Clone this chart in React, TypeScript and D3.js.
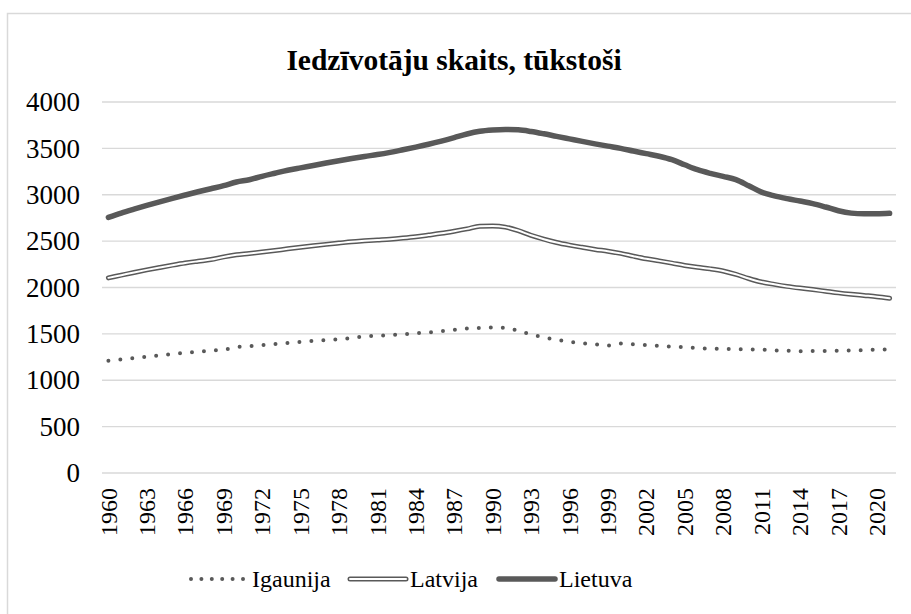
import React, { useEffect, useRef } from 'react';
import * as d3 from 'd3';

// gadi 1960..2021
const years: number[] = d3.range(1960, 2022);

// iedzīvotāju skaits, tūkstoši
const igaunija: number[] = [
  1211, 1225, 1240, 1254, 1268, 1282, 1295, 1307, 1319, 1330,
  1357, 1366, 1379, 1391, 1403, 1414, 1424, 1433, 1443, 1454,
  1473, 1479, 1487, 1496, 1506, 1516, 1528, 1543, 1557, 1565,
  1569, 1566, 1533, 1495, 1462, 1436, 1415, 1400, 1387, 1375,
  1397, 1388, 1379, 1370, 1362, 1355, 1347, 1341, 1338, 1336,
  1333, 1330, 1323, 1318, 1314, 1315, 1316, 1317, 1321, 1325,
  1329, 1331,
];
const latvija: number[] = [
  2104, 2133, 2162, 2190, 2216, 2241, 2264, 2283, 2301, 2330,
  2352, 2366, 2382, 2399, 2417, 2434, 2450, 2465, 2479, 2493,
  2503, 2512, 2521, 2533, 2547, 2565, 2584, 2607, 2632, 2660,
  2663, 2651, 2614, 2563, 2521, 2485, 2457, 2433, 2410, 2391,
  2368, 2338, 2310, 2287, 2263, 2238, 2218, 2201, 2178, 2142,
  2097, 2059, 2034, 2012, 1994, 1978, 1960, 1942, 1927, 1914,
  1901, 1884,
];
const lietuva: number[] = [
  2756, 2803, 2845, 2885, 2924, 2961, 2997, 3032, 3065, 3098,
  3138, 3162, 3199, 3232, 3264, 3290, 3315, 3342, 3367, 3391,
  3413, 3433, 3457, 3485, 3514, 3545, 3579, 3616, 3655, 3684,
  3698, 3704, 3700, 3682, 3657, 3629, 3602, 3575, 3549, 3524,
  3500, 3471, 3443, 3415, 3378, 3323, 3270, 3231, 3198, 3163,
  3097, 3028, 2988, 2958, 2932, 2905, 2868, 2828, 2802, 2794,
  2795, 2800,
];

const seriesNames: string[] = ['Igaunija', 'Latvija', 'Lietuva'];
const yTicks: number[] = [0, 500, 1000, 1500, 2000, 2500, 3000, 3500, 4000];
const xLabelYears: number[] = d3.range(1960, 2022, 3);

const font = 'Liberation Serif, Tinos, DejaVu Serif, Noto Serif, Times New Roman, serif';

const App = () => {
  const ref = useRef<SVGSVGElement>(null);

  useEffect(() => {
    document.body.style.margin = '0';
    const svg = d3.select(ref.current);
    svg.selectAll('*').remove();

    const width = 911;
    const height = 614;
    const left = 102;
    const right = 896;
    const top = 102;
    const bottom = 473;
    const grey = '#595959';

    // rāmis
    svg.append('rect')
      .attr('x', 7.5).attr('y', 13.5)
      .attr('width', width + 20).attr('height', height + 20)
      .attr('fill', 'white')
      .attr('stroke', '#d9d9d9')
      .attr('stroke-width', 1.5);

    svg.append('text')
      .attr('x', 454).attr('y', 70)
      .attr('text-anchor', 'middle')
      .style('font-family', font)
      .attr('font-weight', 'bold')
      .attr('font-size', 29.5)
      .text('Iedzīvotāju skaits, tūkstoši');

    const x = d3.scaleBand<number>()
      .domain(years)
      .range([left, right]);
    const cx = (yr: number) => (x(yr) as number) + x.bandwidth() / 2;

    const y = d3.scaleLinear()
      .domain([0, 4000])
      .range([bottom, top]);

    // režģis
    svg.append('g')
      .selectAll('line')
      .data(yTicks)
      .join('line')
      .attr('x1', left).attr('x2', right)
      .attr('y1', d => y(d)).attr('y2', d => y(d))
      .attr('stroke', '#d9d9d9')
      .attr('stroke-width', 1.3);

    svg.append('g')
      .style('font-family', font)
      .attr('font-size', 27)
      .attr('text-anchor', 'end')
      .selectAll('text')
      .data(yTicks)
      .join('text')
      .attr('x', 80)
      .attr('y', d => y(d))
      .attr('dy', '0.34em')
      .text(d => String(d));

    svg.append('g')
      .style('font-family', font)
      .attr('font-size', 24)
      .attr('text-anchor', 'end')
      .selectAll('text')
      .data(xLabelYears)
      .join('text')
      .attr('transform', d => `translate(${cx(d)},488) rotate(-90)`)
      .attr('dy', '0.34em')
      .text(d => String(d));

    const line = d3.line<number>()
      .x((_, i) => cx(years[i]))
      .y(d => y(d))
      .curve(d3.curveMonotoneX);

    // Igaunija - punktēta
    svg.append('path')
      .attr('d', line(igaunija))
      .attr('fill', 'none')
      .attr('stroke', grey)
      .attr('stroke-width', 4)
      .attr('stroke-linecap', 'round')
      .attr('stroke-dasharray', '0 12');

    // Latvija - dubulta
    svg.append('path')
      .attr('d', line(latvija))
      .attr('fill', 'none')
      .attr('stroke', grey)
      .attr('stroke-width', 5)
      .attr('stroke-linecap', 'round');
    svg.append('path')
      .attr('d', line(latvija))
      .attr('fill', 'none')
      .attr('stroke', 'white')
      .attr('stroke-width', 2)
      .attr('stroke-linecap', 'round');

    // Lietuva - bieza
    svg.append('path')
      .attr('d', line(lietuva))
      .attr('fill', 'none')
      .attr('stroke', grey)
      .attr('stroke-width', 5.5)
      .attr('stroke-linecap', 'round');

    // leģenda
    const legY = 579;
    const legend = [
      { name: seriesNames[0], x0: 191, x1: 243, tx: 252 },
      { name: seriesNames[1], x0: 350, x1: 406, tx: 410 },
      { name: seriesNames[2], x0: 499, x1: 555, tx: 559 },
    ];
    legend.forEach((l, i) => {
      if (i === 0) {
        svg.append('line')
          .attr('x1', l.x0).attr('x2', l.x1).attr('y1', legY).attr('y2', legY)
          .attr('stroke', grey).attr('stroke-width', 4)
          .attr('stroke-linecap', 'round').attr('stroke-dasharray', '0 10.4');
      } else if (i === 1) {
        svg.append('line')
          .attr('x1', l.x0).attr('x2', l.x1).attr('y1', legY).attr('y2', legY)
          .attr('stroke', grey).attr('stroke-width', 5).attr('stroke-linecap', 'round');
        svg.append('line')
          .attr('x1', l.x0).attr('x2', l.x1).attr('y1', legY).attr('y2', legY)
          .attr('stroke', 'white').attr('stroke-width', 2).attr('stroke-linecap', 'round');
      } else {
        svg.append('line')
          .attr('x1', l.x0).attr('x2', l.x1).attr('y1', legY).attr('y2', legY)
          .attr('stroke', grey).attr('stroke-width', 5.5).attr('stroke-linecap', 'round');
      }
      svg.append('text')
        .attr('x', l.tx).attr('y', legY + 8)
        .style('font-family', font)
        .attr('font-size', 24)
        .text(l.name);
    });
  }, []);

  return (
    <svg
      ref={ref}
      width={911}
      height={614}
      style={{ display: 'block', background: 'white' }}
    />
  );
};

export default App;
